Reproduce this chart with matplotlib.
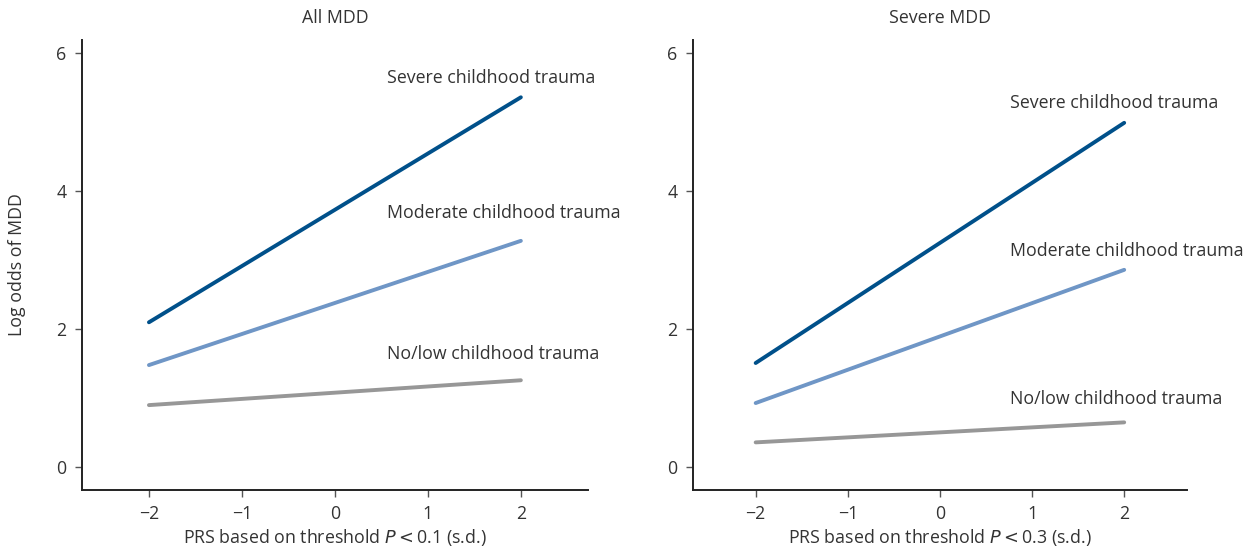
import matplotlib
matplotlib.use("Agg")
import matplotlib.pyplot as plt

plt.rcParams['font.family'] = ['Open Sans', 'DejaVu Sans']

prs = [-2, 2]
groups = ["Severe childhood trauma", "Moderate childhood trauma", "No/low childhood trauma"]

all_severe = [2.10, 5.36]
all_moderate = [1.48, 3.28]
all_nolow = [0.90, 1.26]

sev_severe = [1.51, 4.99]
sev_moderate = [0.93, 2.86]
sev_nolow = [0.36, 0.65]

label_pos_all = [(0.56, 5.64), (0.56, 3.68), (0.56, 1.64)]
label_pos_sev = [(0.76, 5.28), (0.76, 3.13), (0.76, 0.99)]

titles = ["All MDD", "Severe MDD"]
xlabels = ["PRS based on threshold $\\it{P}$$<$0.1 (s.d.)", "PRS based on threshold $\\it{P}$$<$0.3 (s.d.)"]

colors = ["#00508a", "#6f96c6", "#979797"]
txt = "#333333"
fs = 12.8

fig = plt.figure(figsize=(12.48, 5.51), dpi=100)
ax1 = fig.add_axes([0.0657, 0.1107, 0.4053, 0.8167])
ax2 = fig.add_axes([0.5553, 0.1107, 0.3957, 0.8167])

panels = [
    (ax1, [all_severe, all_moderate, all_nolow], label_pos_all, (-2.72, 2.72)),
    (ax2, [sev_severe, sev_moderate, sev_nolow], label_pos_sev, (-2.68, 2.68)),
]

for i, (ax, series, lpos, xl) in enumerate(panels):
    for s, c in zip(series, colors):
        ax.plot(prs, s, color=c, lw=2.8, solid_capstyle='round')
    for g, (lx, ly) in zip(groups, lpos):
        ax.text(lx, ly, g, fontsize=fs, color=txt, va='center', ha='left')
    ax.set_xlim(*xl)
    ax.set_ylim(-0.33, 6.19)
    ax.set_xticks([-2, -1, 0, 1, 2])
    ax.set_xticklabels(['\u22122', '\u22121', '0', '1', '2'])
    ax.set_yticks([0, 2, 4, 6])
    for sp in ['top', 'right']:
        ax.spines[sp].set_visible(False)
    for sp in ['left', 'bottom']:
        ax.spines[sp].set_linewidth(1.4)
        ax.spines[sp].set_color('#222222')
    ax.tick_params(direction='out', length=5, width=1, color='#555555',
                   labelsize=fs, labelcolor=txt, pad=6)
    ax.set_xlabel(xlabels[i], fontsize=fs, color=txt, labelpad=3)
    ax.set_title(titles[i], fontsize=fs, color=txt, pad=12)

ax1.set_ylabel("Log odds of MDD", fontsize=fs, color=txt, labelpad=22)

fig.savefig("out.png", dpi=100)
